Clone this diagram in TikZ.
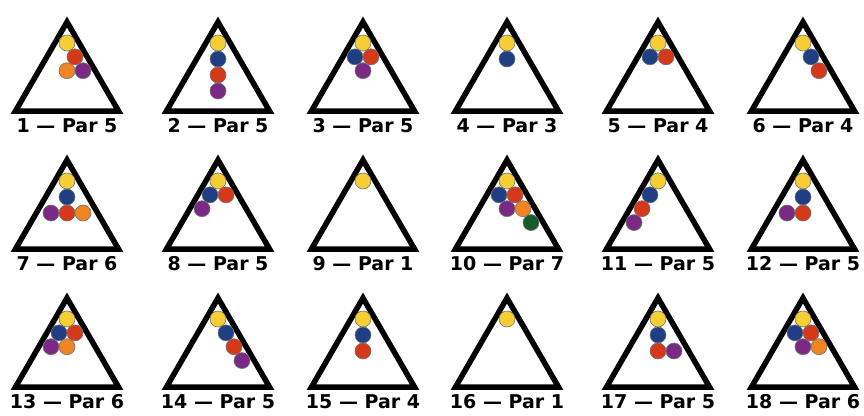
\documentclass[tikz,border=0pt]{standalone}
\usepackage{fontspec}
\setmainfont{DejaVu Sans}
\usepackage{tikz}
\usetikzlibrary{positioning}
\usepackage{xcolor}
\definecolor{BallYellow}{RGB}{246, 206, 52}
\definecolor{BallBlue}{RGB}{32, 62, 132}
\definecolor{BallRed}{RGB}{214, 56, 26}
\definecolor{BallOrange}{RGB}{240, 132, 34}
\definecolor{BallPurple}{RGB}{122, 42, 132}
\definecolor{BallGreen}{RGB}{22, 92, 42}

\tikzset{
  rack/.style={line width=5.5pt, line join=miter},
  ball/.style={circle, draw=black!55, line width=0.6pt, minimum size=16pt, inner sep=0pt},
  parlabel/.style={anchor=base, font=\fontsize{19}{19}\selectfont\bfseries}
}

% one hole: number, x, apex y, par, balls (dx/dy/colour in ball diameters)
\newcommand{\parhole}[5]{%
  \draw[rack] (#2,#3) -- ++(-51.5,89) -- ++(103,0) -- cycle;
  \foreach \dx/\dy/\c [count=\i] in {#5} {
    \node[ball, fill=\c] (b#1-\i) at ({#2+16*\dx},{#3+21+16*\dy}) {};
  }
  \node[parlabel] (l#1) at (#2,#3+110) {#1 \textemdash{} Par #4};
}

\begin{document}
\begin{tikzpicture}[x=1pt, y=-1pt]
  \useasboundingbox (0,0) rectangle (864,415);
  % row 1
  \parhole{1}{67}{22}{5}{0/0/BallYellow, .5/.866/BallRed, 0/1.732/BallOrange, 1/1.732/BallPurple}
  \parhole{2}{218}{22}{5}{0/0/BallYellow, 0/1/BallBlue, 0/2/BallRed, 0/3/BallPurple}
  \parhole{3}{363}{22}{5}{0/0/BallYellow, -.5/.866/BallBlue, .5/.866/BallRed, 0/1.732/BallPurple}
  \parhole{4}{507}{22}{3}{0/0/BallYellow, 0/1/BallBlue}
  \parhole{5}{658}{22}{4}{0/0/BallYellow, -.5/.866/BallBlue, .5/.866/BallRed}
  \parhole{6}{803}{22}{4}{0/0/BallYellow, .5/.866/BallBlue, 1/1.732/BallRed}
  % row 2
  \parhole{7}{67}{160}{6}{0/0/BallYellow, 0/1/BallBlue, -1/2/BallPurple, 0/2/BallRed, 1/2/BallOrange}
  \parhole{8}{218}{160}{5}{0/0/BallYellow, -.5/.866/BallBlue, .5/.866/BallRed, -1/1.732/BallPurple}
  \parhole{9}{363}{160}{1}{0/0/BallYellow}
  \parhole{10}{507}{160}{7}{0/0/BallYellow, -.5/.866/BallBlue, .5/.866/BallRed, 0/1.732/BallPurple, 1/1.732/BallOrange, 1.5/2.598/BallGreen}
  \parhole{11}{658}{160}{5}{0/0/BallYellow, -.5/.866/BallBlue, -1/1.732/BallRed, -1.5/2.598/BallPurple}
  \parhole{12}{803}{160}{5}{0/0/BallYellow, 0/1/BallBlue, 0/2/BallRed, -1/2/BallPurple}
  % row 3
  \parhole{13}{67}{298}{6}{0/0/BallYellow, -.5/.866/BallBlue, .5/.866/BallRed, -1/1.732/BallPurple, 0/1.732/BallOrange}
  \parhole{14}{218}{298}{5}{0/0/BallYellow, .5/.866/BallBlue, 1/1.732/BallRed, 1.5/2.598/BallPurple}
  \parhole{15}{363}{298}{4}{0/0/BallYellow, 0/1/BallBlue, 0/2/BallRed}
  \parhole{16}{507}{298}{1}{0/0/BallYellow}
  \parhole{17}{658}{298}{5}{0/0/BallYellow, 0/1/BallBlue, 0/2/BallRed, 1/2/BallPurple}
  \parhole{18}{803}{298}{6}{0/0/BallYellow, -.5/.866/BallBlue, .5/.866/BallRed, 0/1.732/BallPurple, 1/1.732/BallOrange}
\end{tikzpicture}
\end{document}
